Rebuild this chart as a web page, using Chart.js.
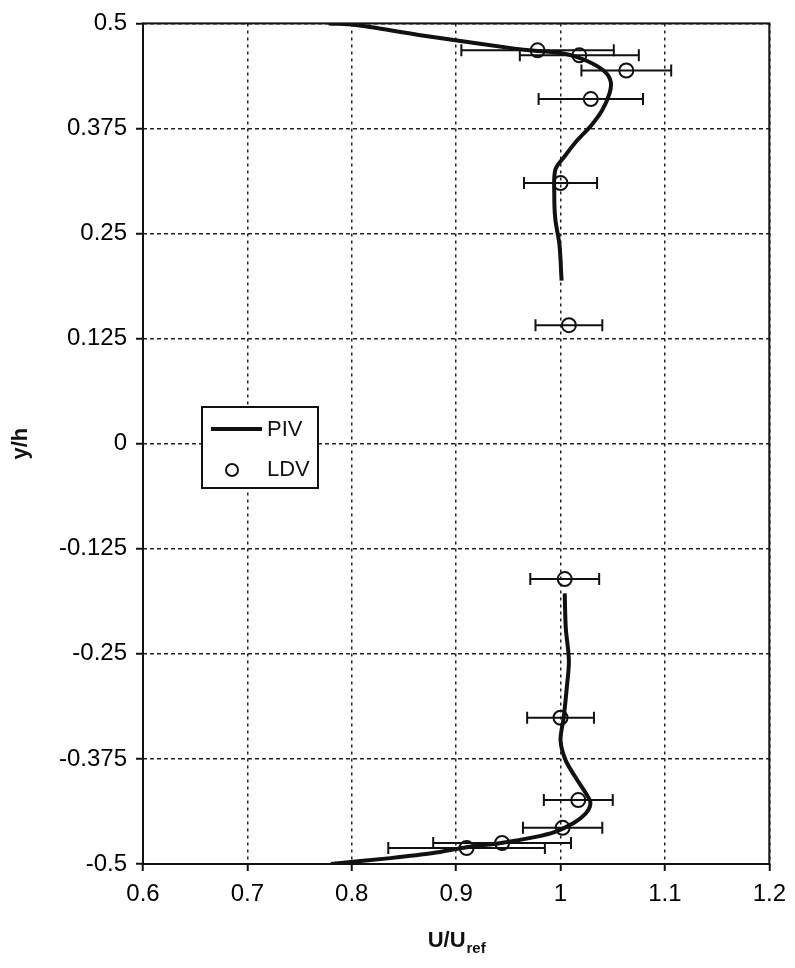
<!DOCTYPE html>
<html>
<head>
<meta charset="utf-8">
<title>U/Uref profile</title>
<script src="https://cdn.jsdelivr.net/npm/chart.js@4.4.1/dist/chart.umd.min.js"></script>
<style>
  html, body { margin: 0; padding: 0; background: #fff; }
  #wrap { width: 795px; height: 968px; }
</style>
</head>
<body>
<div id="wrap"><canvas id="profileChart" width="795" height="968"></canvas></div>
<script>
// PIV profile, upper half of the channel
const pivUpperU = [0.778, 0.804, 0.876, 0.956, 0.971, 1.004, 1.026, 1.042, 1.048, 1.047, 1.040, 1.029, 1.016, 1.004, 0.995, 0.994, 0.995, 0.999, 1.001];
const pivUpperY = [0.500, 0.498, 0.484, 0.470, 0.468, 0.464, 0.455, 0.443, 0.431, 0.417, 0.397, 0.378, 0.361, 0.342, 0.326, 0.295, 0.267, 0.236, 0.194];

// PIV profile, lower half of the channel
const pivLowerU = [1.004, 1.005, 1.008, 1.006, 1.003, 1.000, 1.005, 1.016, 1.028, 1.028, 1.024, 1.013, 0.994, 0.975, 0.943, 0.910, 0.878, 0.837, 0.780];
const pivLowerY = [-0.178, -0.219, -0.258, -0.290, -0.326, -0.353, -0.377, -0.400, -0.424, -0.432, -0.440, -0.451, -0.462, -0.468, -0.475, -0.480, -0.487, -0.493, -0.500];

// LDV measurements with +/- error in U/Uref
const ldvU = [0.978, 1.018, 1.063, 1.029, 1.000, 1.008, 1.004, 1.000, 1.017, 1.002, 0.944, 0.910];
const ldvY = [0.468, 0.462, 0.444, 0.410, 0.310, 0.141, -0.161, -0.326, -0.424, -0.457, -0.475, -0.481];
const ldvErr = [0.073, 0.057, 0.043, 0.050, 0.035, 0.032, 0.033, 0.032, 0.033, 0.038, 0.066, 0.075];

// axis ticks
const xTickValues = [0.6, 0.7, 0.8, 0.9, 1.0, 1.1, 1.2];
const xTickLabels = ["0.6", "0.7", "0.8", "0.9", "1", "1.1", "1.2"];
const yTickValues = [-0.5, -0.375, -0.25, -0.125, 0, 0.125, 0.25, 0.375, 0.5];
const yTickLabels = ["-0.5", "-0.375", "-0.25", "-0.125", "0", "0.125", "0.25", "0.375", "0.5"];

const FONT = "'Liberation Sans', Arial, Helvetica, sans-serif";

function toPoints(xs, ys) {
  return xs.map((x, i) => ({ x: x, y: ys[i] }));
}

// horizontal error bars for the LDV points
const errorBars = {
  id: "errorBars",
  afterDatasetsDraw(chart) {
    const { ctx, scales: { x, y } } = chart;
    ctx.save();
    ctx.strokeStyle = "#111";
    ctx.lineWidth = 2;
    const cap = 6;
    ldvU.forEach((u, i) => {
      const py = y.getPixelForValue(ldvY[i]);
      const x0 = x.getPixelForValue(u - ldvErr[i]);
      const x1 = x.getPixelForValue(u + ldvErr[i]);
      ctx.beginPath();
      ctx.moveTo(x0, py); ctx.lineTo(x1, py);
      ctx.moveTo(x0, py - cap); ctx.lineTo(x0, py + cap);
      ctx.moveTo(x1, py - cap); ctx.lineTo(x1, py + cap);
      ctx.stroke();
    });
    ctx.restore();
  }
};

// closed frame, legend box and the x axis title with subscript
const decorations = {
  id: "decorations",
  afterDraw(chart) {
    const { ctx, chartArea: a } = chart;
    ctx.save();
    ctx.strokeStyle = "#111";
    ctx.lineWidth = 2;
    ctx.strokeRect(a.left, a.top, a.right - a.left, a.bottom - a.top);

    // legend
    const lx = 202, ly = 407, lw = 116, lh = 81;
    ctx.fillStyle = "#fff";
    ctx.fillRect(lx, ly, lw, lh);
    ctx.lineWidth = 2;
    ctx.strokeRect(lx, ly, lw, lh);
    ctx.lineWidth = 4;
    ctx.beginPath();
    ctx.moveTo(211, 429); ctx.lineTo(262, 429);
    ctx.stroke();
    ctx.lineWidth = 2;
    ctx.beginPath();
    ctx.arc(232, 470, 6, 0, Math.PI * 2);
    ctx.stroke();
    ctx.fillStyle = "#111";
    ctx.font = "22px " + FONT;
    ctx.textBaseline = "middle";
    ctx.textAlign = "left";
    ctx.fillText("PIV", 267, 430);
    ctx.fillText("LDV", 267, 470);

    // x axis title: U/U with subscript "ref"
    const main = "U/U", sub = "ref";
    ctx.font = "bold 22px " + FONT;
    const wMain = ctx.measureText(main).width;
    ctx.font = "bold 15px " + FONT;
    const wSub = ctx.measureText(sub).width;
    const cx = (a.left + a.right) / 2;
    const startX = cx - (wMain + wSub) / 2;
    ctx.textBaseline = "alphabetic";
    ctx.font = "bold 22px " + FONT;
    ctx.fillText(main, startX, 947);
    ctx.font = "bold 15px " + FONT;
    ctx.fillText(sub, startX + wMain + 1, 953);
    ctx.restore();
  }
};

const ctx = document.getElementById("profileChart").getContext("2d");

const profileChart = new Chart(ctx, {
  type: "scatter",
  data: {
    datasets: [
      {
        label: "PIV",
        data: toPoints(pivUpperU, pivUpperY),
        showLine: true,
        borderColor: "#111",
        borderWidth: 4,
        pointRadius: 0,
        tension: 0.3,
        fill: false,
      },
      {
        label: "PIV lower",
        data: toPoints(pivLowerU, pivLowerY),
        showLine: true,
        borderColor: "#111",
        borderWidth: 4,
        pointRadius: 0,
        tension: 0.3,
        fill: false,
      },
      {
        label: "LDV",
        data: toPoints(ldvU, ldvY),
        showLine: false,
        pointStyle: "circle",
        pointRadius: 7,
        pointBorderWidth: 2,
        pointBorderColor: "#111",
        pointBackgroundColor: "rgba(0,0,0,0)",
      },
    ],
  },
  options: {
    responsive: false,
    animation: false,
    devicePixelRatio: 1,
    layout: { padding: { top: 20, right: 22, bottom: 0, left: 0 } },
    plugins: {
      legend: { display: false },
      tooltip: { enabled: false },
    },
    scales: {
      x: {
        type: "linear",
        min: 0.6,
        max: 1.2,
        afterBuildTicks: (scale) => { scale.ticks = xTickValues.map(v => ({ value: v })); },
        afterFit: (scale) => { scale.height = 104; },
        ticks: {
          callback: (value, index) => xTickLabels[index],
          color: "#000",
          font: { family: FONT, size: 24 },
          padding: 9,
          maxRotation: 0,
        },
        grid: {
          color: "#222",
          lineWidth: 1.5,
          tickBorderDash: [],
          tickColor: "#111",
          tickLength: 7,
          tickWidth: 2,
        },
        // grid line dash lives under border in v4
        border: { display: false, dash: [3, 4] },
        title: { display: false },
      },
      y: {
        type: "linear",
        min: -0.5,
        max: 0.5,
        afterBuildTicks: (scale) => { scale.ticks = yTickValues.map(v => ({ value: v })); },
        afterFit: (scale) => { scale.width = 143; },
        ticks: {
          callback: (value, index) => yTickLabels[index],
          color: "#000",
          font: { family: FONT, size: 24 },
          padding: 9,
        },
        grid: {
          color: "#222",
          lineWidth: 1.5,
          tickBorderDash: [],
          tickColor: "#111",
          tickLength: 7,
          tickWidth: 2,
        },
        border: { display: false, dash: [4, 3] },
        title: {
          display: true,
          text: "y/h",
          color: "#111",
          font: { family: FONT, size: 22, weight: "bold" },
          padding: { top: 8, bottom: 0 },
        },
      },
    },
  },
  plugins: [errorBars, decorations],
});
</script>
</body>
</html>
